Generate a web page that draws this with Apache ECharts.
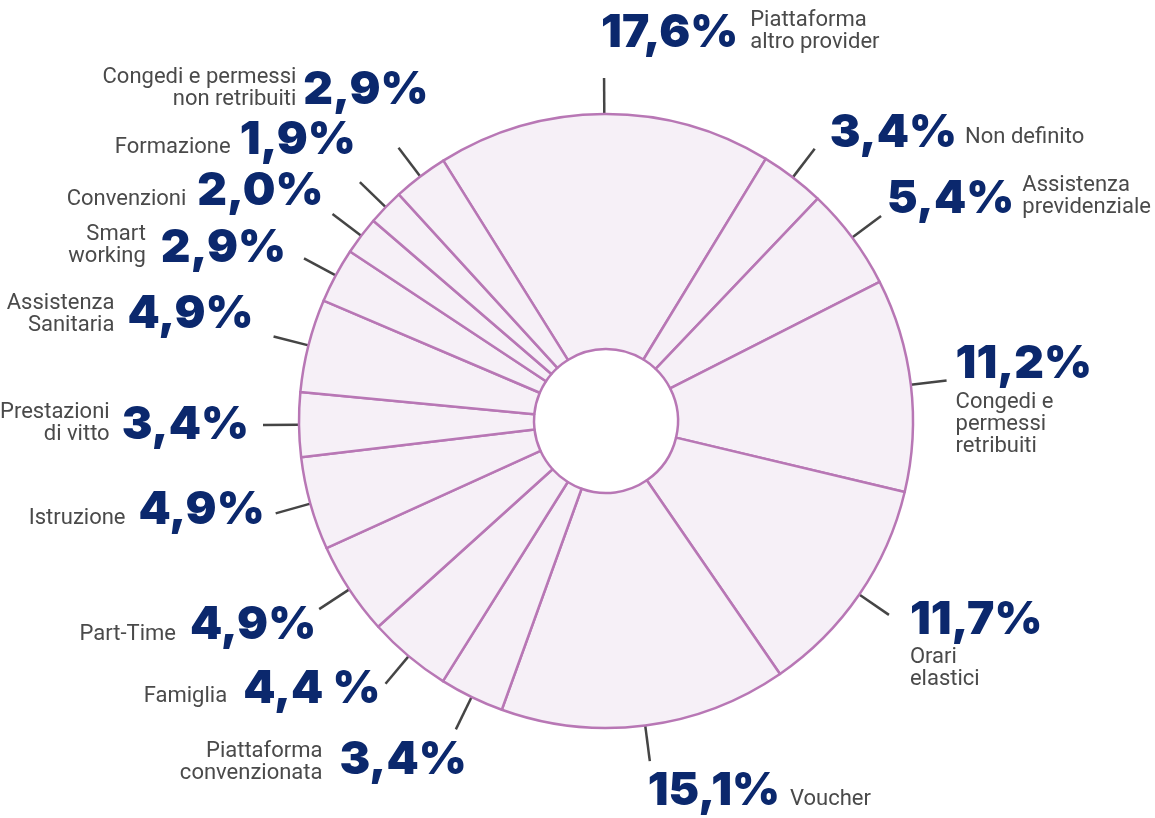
<!DOCTYPE html>
<html>
<head>
<meta charset="utf-8">
<script src="https://cdn.jsdelivr.net/npm/echarts@6/dist/echarts.min.js"></script>
<style>
html, body { margin: 0; background: #fff; }
#chart { width: 1155px; height: 818px; }
</style>
</head>
<body>
<div id="chart"></div>
<script>
// data, clockwise from the top
var categories = [
    'Piattaforma\naltro provider', 'Non definito', 'Assistenza\nprevidenziale',
    'Congedi e\npermessi\nretribuiti', 'Orari\nelastici', 'Voucher',
    'Piattaforma\nconvenzionata', 'Famiglia', 'Part-Time', 'Istruzione',
    'Prestazioni\ndi vitto', 'Assistenza\nSanitaria', 'Smart\nworking',
    'Convenzioni', 'Formazione', 'Congedi e permessi\nnon retribuiti'
];
var values = [17.6, 3.4, 5.4, 11.2, 11.7, 15.1, 3.4, 4.4, 4.9, 4.9, 3.4, 4.9, 2.9, 2.0, 1.9, 2.9];
var valueLabels = ['17,6%', '3,4%', '5,4%', '11,2%', '11,7%', '15,1%', '3,4%', '4,4 %',
    '4,9%', '4,9%', '3,4%', '4,9%', '2,9%', '2,0%', '1,9%', '2,9%'];

// percentage placement, relative to the end of each label line: [align, dx, dy]
var pctPos = [
    ['left', -3, -45], ['left', 15, -16], ['left', 6, -17], ['left', 9, -16],
    ['left', 21, 5], ['left', -2, 30], ['right', 11, 31], ['right', -5, 5],
    ['right', -3, 16], ['right', -11, -3], ['right', -14, 0], ['right', -20, -22],
    ['right', -18, -10], ['right', -9, -23], ['right', -4, -42], ['right', 30, -58]
];
// name placement, relative to the percentage: [side, gap, dy]
var namePos = [
    ['right', 12, -2], ['right', 8, 5], ['right', 8, -3], ['below', 0, 60],
    ['below', 0, 49], ['right', 10, 8], ['left', 17, 2], ['left', 16, 8],
    ['left', 14, 9], ['left', 13, 8], ['left', 12, -2], ['left', 13, 0],
    ['left', 15, -3], ['left', 11, 8], ['left', 9, 7], ['left', 7, -1]
];

var pctFont = 'Inter, Lato, sans-serif';
var pctSize = 46;
var measure = document.createElement('canvas').getContext('2d');
measure.font = '900 ' + pctSize + 'px ' + pctFont;

var pieData = values.map(function (v, i) {
    return { value: v, name: categories[i] };
});

function lineEnd(p) {
    var pts = p.labelLinePoints;
    return pts[pts.length - 1];
}

function pctBox(p) {
    var end = lineEnd(p);
    var o = pctPos[p.dataIndex];
    var w = measure.measureText(valueLabels[p.dataIndex]).width;
    var x = end[0] + o[1];
    var left = o[0] === 'left' ? x : x - w;
    return { align: o[0], x: x, y: end[1] + o[2], left: left, right: left + w };
}

function placePct(p) {
    var b = pctBox(p);
    return { x: b.x, y: b.y, align: b.align, verticalAlign: 'middle', labelLinePoints: p.labelLinePoints };
}

function placeName(p) {
    var b = pctBox(p);
    var n = namePos[p.dataIndex];
    var x, align;
    if (n[0] === 'right') { x = b.right + n[1]; align = 'left'; }
    else if (n[0] === 'left') { x = b.left - n[1]; align = 'right'; }
    else { x = b.left + n[1]; align = 'left'; }
    return { x: x, y: b.y + n[2], align: align, verticalAlign: 'middle', labelLinePoints: p.labelLinePoints };
}

var myChart = echarts.init(document.getElementById('chart'));

var option = {
    backgroundColor: '#fff',
    animation: false,
    series: [{
        type: 'pie',
        center: [606, 421],
        radius: [72, 307],
        startAngle: 122,
        avoidLabelOverlap: false,
        silent: true,
        data: pieData,
        itemStyle: {
            color: '#f6f0f7',
            borderColor: '#b877b5',
            borderWidth: 2.5
        },
        label: {
            show: true,
            position: 'outside',
            formatter: function (p) { return valueLabels[p.dataIndex]; },
            fontFamily: pctFont,
            fontWeight: 900,
            fontSize: pctSize,
            color: '#0b286d'
        },
        labelLine: {
            show: true,
            length: 36,
            length2: 0,
            lineStyle: { color: '#454545', width: 2.5 }
        },
        labelLayout: placePct
    }, {
        type: 'pie',
        center: [606, 421],
        radius: [72, 307],
        startAngle: 122,
        avoidLabelOverlap: false,
        silent: true,
        data: pieData,
        itemStyle: { color: 'rgba(0,0,0,0)', borderWidth: 0 },
        label: {
            show: true,
            position: 'outside',
            formatter: '{b}',
            fontFamily: 'Roboto, sans-serif',
            fontSize: 22,
            lineHeight: 22,
            color: '#4a4a4a'
        },
        labelLine: {
            show: true,
            length: 36,
            length2: 0,
            lineStyle: { color: 'rgba(0,0,0,0)', width: 0 }
        },
        labelLayout: placeName
    }]
};

myChart.setOption(option);
</script>
</body>
</html>
